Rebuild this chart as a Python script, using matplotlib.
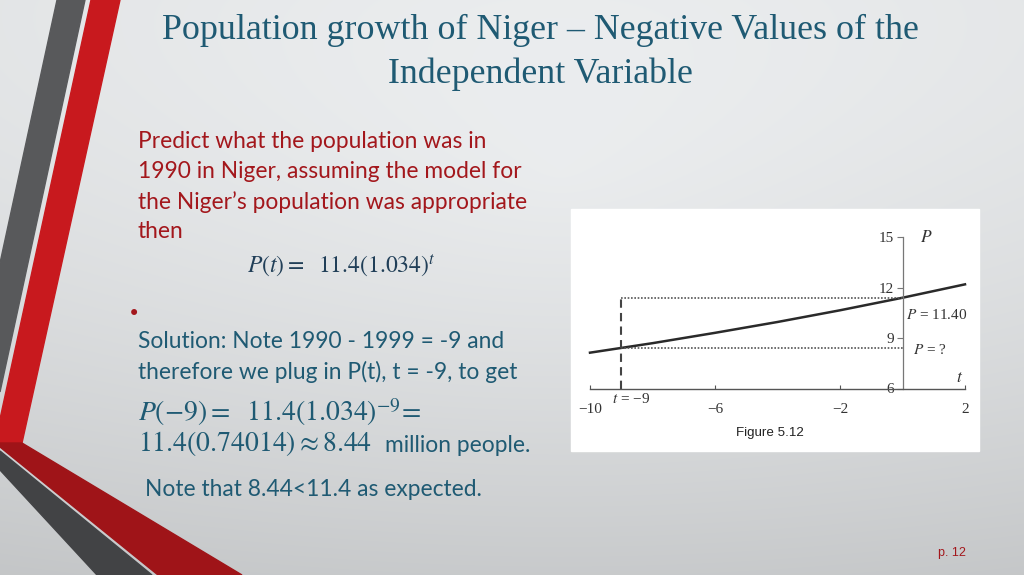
import numpy as np
import matplotlib
matplotlib.use("Agg")
import matplotlib.pyplot as plt
from matplotlib.patches import Polygon, Rectangle

W, H = 1024, 575

# values
t_vals = [-10, -8, -6, -4, -2, 0, 2]
p_vals = [8.16, 8.72, 9.33, 9.97, 10.66, 11.40, 12.19]
t_ticks = [-10, -6, -2, 2]
p_ticks = [6, 9, 12, 15]
t_pred = -9
p_now = 11.40
p_pred = 8.44

TEAL = "#1f5a73"
RED = "#a3171c"

plt.rcParams["mathtext.fontset"] = "stix"

fig = plt.figure(figsize=(W / 100, H / 100), dpi=100)
bg = fig.add_axes([0, 0, 1, 1])
bg.set_xlim(0, W)
bg.set_ylim(H, 0)
bg.axis("off")

# slide background, light in the upper middle and darker towards the bottom
yy, xx = np.mgrid[0:H, 0:W]
r = np.hypot((xx - 560) / 700, (yy - 170) / 500)
v = 0.935 - 0.11 * (yy / H) ** 1.6 - 0.05 * np.clip(r, 0, 1.5)
img = np.dstack([v, v + 0.008, v + 0.014])
bg.imshow(np.clip(img, 0, 1), extent=(0, W, H, 0), aspect="auto", zorder=0)

# stripes on the left
bg.add_patch(Polygon([(57, 0), (85, 0), (0, 392), (0, 263)], color="#58595b", zorder=1))
bg.add_patch(Polygon([(91, 0), (120, 0), (22, 443), (0, 443), (0, 419)], color="#c8191e", zorder=1))
bg.add_patch(Polygon([(0, 443), (22, 443), (242, 575), (158, 575), (0, 447)], color="#9f1418", zorder=1))
bg.add_patch(Polygon([(0, 451), (0, 470), (97, 575), (152, 575)], color="#424345", zorder=1))

# title
title = dict(ha="center", va="center", fontsize=25.8, family="Liberation Serif", color=TEAL)
bg.text(540, 30, "Population growth of Niger – Negative Values of the", **title)
bg.text(540, 74, "Independent Variable", **title)

body = dict(ha="left", va="center", fontsize=16.4, family="Lato")
for y, s in [(141, "Predict what the population was in"),
             (171, "1990 in Niger, assuming the model for"),
             (202, "the Niger’s population was appropriate"),
             (232, "then")]:
    bg.text(138, y, s, color=RED, **body)

bg.text(247, 266, r"$P(t) =\ \ 11.4(1.034)^{t}$", ha="left", va="center", fontsize=17, color="#213f58")
bg.text(134, 314, "•", ha="center", va="center", fontsize=15, color=RED)
bg.text(138, 341, "Solution: Note 1990 - 1999 = -9 and", color=TEAL, **body)
bg.text(138, 372, "therefore we plug in P(t), t = -9, to get", color=TEAL, **body)
bg.text(138, 412, r"$P(-9) =\ \ 11.4(1.034)^{-9}\!=$", ha="left", va="center", fontsize=20, color=TEAL)
bg.text(138, 444, r"$11.4(0.74014) \approx 8.44$", ha="left", va="center", fontsize=20, color=TEAL)
bg.text(385, 445, "million people.", color=TEAL, **body)
bg.text(145, 490, "Note that 8.44<11.4 as expected.", color=TEAL, **body)

bg.text(952, 553, "p. 12", ha="center", va="center", fontsize=9, family="Liberation Sans", color=RED)

# white panel holding the textbook figure
bg.add_patch(Rectangle((571, 209), 408, 242, color="white", zorder=2))
bg.text(770, 433, "Figure 5.12", ha="center", va="center", fontsize=9.6, family="Liberation Sans",
        color="#222222", zorder=3)

# textbook figure: t from -10 to 2 spans x 590..965, P from 6 to 15 spans y 389..237
ax = fig.add_axes([590 / W, 1 - 389.3 / H, 375 / W, 152.6 / H])
ax.patch.set_visible(False)
ax.set_xlim(-10, 2)
ax.set_ylim(6, 15)
for side in ["top", "right"]:
    ax.spines[side].set_visible(False)
ax.spines["left"].set_position(("data", 0))
ax.spines["left"].set_color("#777777")
ax.spines["bottom"].set_color("#555555")
ax.spines["left"].set_linewidth(0.9)
ax.spines["bottom"].set_linewidth(1.0)

ax.set_xticks(t_ticks)
ax.set_yticks(p_ticks)
serif = dict(family="Liberation Serif", size=11, color="#333333")
ax.set_xticklabels([f"{t}".replace("-", "−") for t in t_ticks], **serif)
ax.set_yticklabels([str(p) for p in p_ticks], **serif)
ax.tick_params(axis="x", direction="in", length=3, color="#555555", pad=10)
ax.tick_params(axis="y", direction="out", length=4, color="#777777", pad=2)
ax.get_yticklabels()[0].set_verticalalignment("center")

ax.plot(t_vals, p_vals, color="#2a2a2a", lw=1.8, clip_on=False)
ax.plot([t_pred, 0], [p_now, p_now], color="#555555", lw=1.2, ls=(0, (1, 1)))
ax.plot([t_pred, 0], [p_pred, p_pred], color="#555555", lw=1.2, ls=(0, (1, 1)))
ax.plot([t_pred, t_pred], [6, p_now], color="#444444", lw=1.5, ls=(0, (4, 2.5)))

lbl = dict(ha="left", va="center", fontsize=11, family="Liberation Serif", color="#333333")
ax.text(0.55, 15, "$P$", ha="left", va="center", fontsize=12.5, color="#333333")
ax.text(1.95, 6.75, "$t$", ha="right", va="center", fontsize=12.5, color="#333333")
ax.text(0.1, 10.4, "$P$ = 11.40", **lbl)
ax.text(0.35, 8.3, "$P$ = ?", **lbl)
ax.text(t_pred - 0.3, 5.4, "$t$ = −9", **lbl)

fig.savefig("out.png", dpi=100)
